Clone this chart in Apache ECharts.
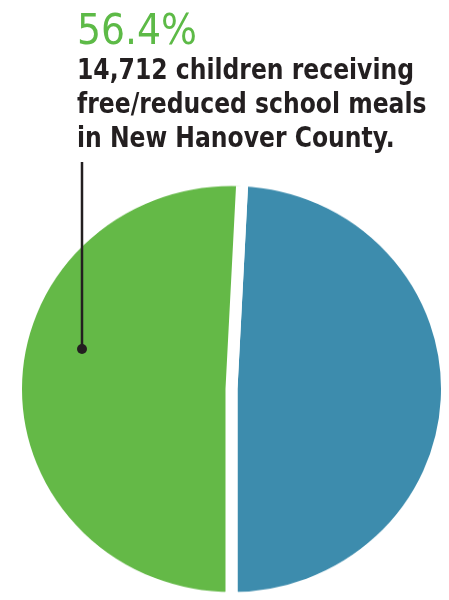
<!DOCTYPE html>
<html>
<head>
<meta charset="utf-8">
<script src="https://cdn.jsdelivr.net/npm/echarts@6/dist/echarts.min.js"></script>
<style>
html,body{margin:0;padding:0;background:#fff;}
#wrap{position:relative;width:449px;height:600px;overflow:hidden;}
#pie{position:absolute;left:0;top:0;width:449px;height:600px;transform-origin:231.5px 389px;transform:scaleY(0.969);}
#txt{position:absolute;left:0;top:0;width:449px;height:600px;}
</style>
</head>
<body>
<div id="wrap"><div id="pie"></div><div id="txt"></div></div>
<script>
// Data
const sliceNames = ['Other', 'Free/reduced meals'];
const sliceShares = [49.2, 50.8];
const sliceColors = ['#3d8cad', '#64b947'];
const headline = '56.4%';
const captionLines = ['14,712 children receiving', 'free/reduced school meals', 'in New Hanover County.'];

const pie = echarts.init(document.getElementById('pie'), null, {renderer: 'canvas'});
const total = sliceShares.reduce((a, b) => a + b, 0);
pie.setOption({
  animation: false,
  series: [{
    type: 'pie',
    center: [231.5, 389],
    radius: [0, 215.5],
    startAngle: -90 + 360 * sliceShares[0] / total,
    clockwise: true,
    silent: true,
    label: {show: false},
    labelLine: {show: false},
    itemStyle: {borderColor: '#ffffff', borderWidth: 12, borderJoin: 'miter'},
    emphasis: {disabled: true},
    data: sliceNames.map((n, i) => ({name: n, value: sliceShares[i], itemStyle: {color: sliceColors[i]}}))
  }]
});

const txt = echarts.init(document.getElementById('txt'), null, {renderer: 'canvas'});
const elements = [
  {type: 'text', x: 77, y: 12, silent: true,
   style: {text: headline, fill: '#5dba47', font: '500 42px "DejaVu Sans Condensed", "DejaVu Sans"'}}
];
captionLines.forEach((t, i) => {
  elements.push({type: 'text', x: 77, y: 57 + i * 34, scaleX: 0.9, silent: true,
    style: {text: t, fill: '#231f20', font: 'bold 29px "DejaVu Sans Condensed", "DejaVu Sans"'}});
});
elements.push({type: 'line', silent: true,
  shape: {x1: 82, y1: 162, x2: 82, y2: 349},
  style: {stroke: '#231f20', lineWidth: 2.5}});
elements.push({type: 'circle', silent: true,
  shape: {cx: 82, cy: 349, r: 5},
  style: {fill: '#231f20'}});
txt.setOption({animation: false, graphic: {elements: elements}});
</script>
</body>
</html>
